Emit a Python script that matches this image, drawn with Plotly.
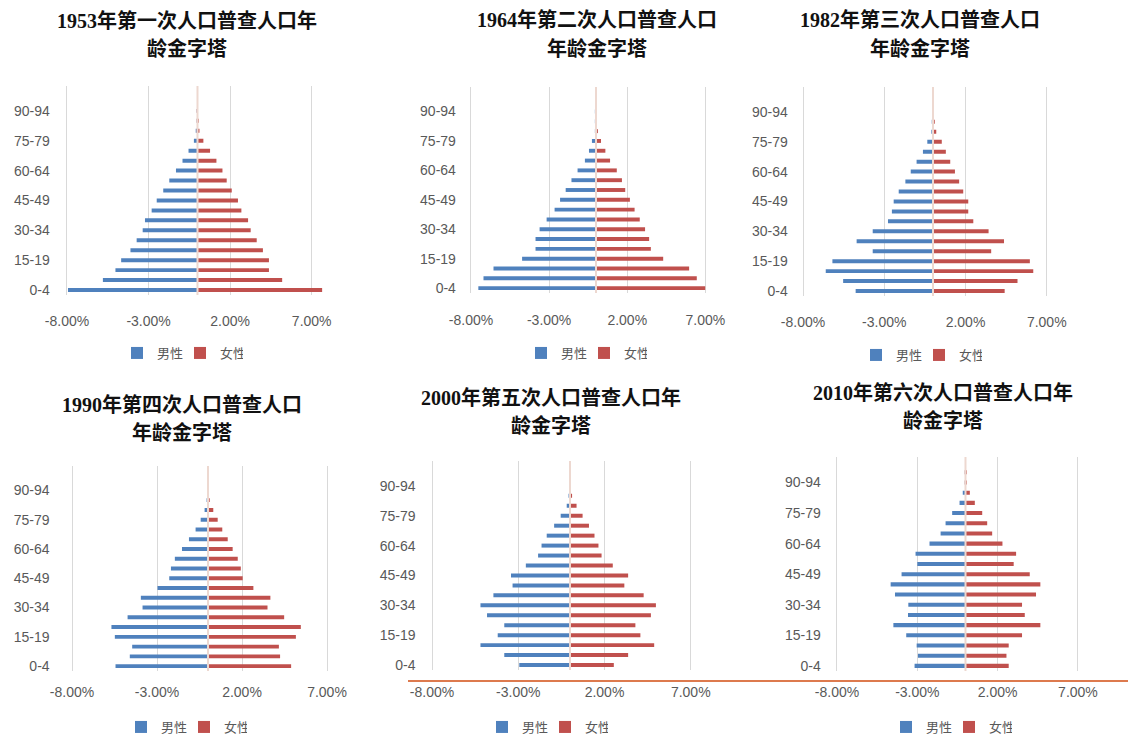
import plotly.graph_objects as go

W, H = 1128, 738

# Five-year age bands used by every census panel
age_groups = ["0-4", "5-9", "10-14", "15-19", "20-24", "25-29", "30-34",
              "35-39", "40-44", "45-49", "50-54", "55-59", "60-64", "65-69",
              "70-74", "75-79", "80-84", "85-89", "90-94", "95-99", "100+"]
age_ticks = ["0-4", "15-19", "30-34", "45-49", "60-64", "75-79", "90-94"]

pct_ticks = [-8, -3, 2, 7]
pct_tick_text = ["-8.00%", "-3.00%", "2.00%", "7.00%"]

series_names = ["男性", "女性"]

# Share of total population (%) per age band
male_1953 = [7.94, 5.80, 5.03, 4.68, 4.11, 3.73, 3.36, 3.22, 2.81, 2.50, 2.10,
             1.73, 1.32, 0.92, 0.55, 0.22, 0.08, 0.03, 0.01, 0.0, 0.0]
female_1953 = [7.64, 5.19, 4.38, 4.38, 4.01, 3.63, 3.26, 3.10, 2.69, 2.48, 2.10,
               1.79, 1.53, 1.16, 0.77, 0.36, 0.12, 0.04, 0.01, 0.0, 0.0]

male_1964 = [7.53, 7.20, 6.56, 4.73, 3.87, 3.87, 3.61, 3.16, 2.65, 2.30, 1.94,
             1.57, 1.18, 0.71, 0.45, 0.26, 0.06, 0.02, 0.01, 0.0, 0.0]
female_1964 = [6.99, 6.45, 5.96, 4.30, 3.51, 3.40, 3.14, 2.80, 2.47, 2.17, 1.87,
               1.66, 1.33, 0.90, 0.60, 0.32, 0.10, 0.04, 0.01, 0.0, 0.0]

male_1982 = [4.76, 5.53, 6.60, 6.19, 3.71, 4.70, 3.71, 2.77, 2.53, 2.42, 2.11,
             1.70, 1.37, 1.01, 0.62, 0.35, 0.10, 0.03, 0.01, 0.0, 0.0]
female_1982 = [4.41, 5.20, 6.17, 5.96, 3.58, 4.37, 3.42, 2.48, 2.17, 2.17, 1.86,
               1.61, 1.35, 1.06, 0.79, 0.54, 0.20, 0.06, 0.02, 0.0, 0.0]

male_1990 = [5.44, 4.60, 4.46, 5.48, 5.68, 4.73, 3.85, 3.95, 2.97, 2.28, 2.18,
             1.95, 1.53, 1.12, 0.73, 0.43, 0.20, 0.05, 0.01, 0.0, 0.0]
female_1990 = [4.89, 4.24, 4.17, 5.17, 5.46, 4.48, 3.50, 3.67, 2.67, 2.04, 1.93,
               1.75, 1.45, 1.16, 0.84, 0.57, 0.31, 0.10, 0.02, 0.0, 0.0]

male_2000 = [2.94, 3.81, 5.19, 4.19, 3.81, 4.81, 5.19, 4.44, 3.33, 3.42, 2.56,
             1.85, 1.65, 1.35, 0.92, 0.54, 0.19, 0.06, 0.01, 0.0, 0.0]
female_2000 = [2.54, 3.37, 4.88, 4.08, 3.79, 4.69, 4.98, 4.27, 3.15, 3.37, 2.48,
               1.83, 1.65, 1.42, 1.10, 0.73, 0.38, 0.12, 0.03, 0.0, 0.0]

male_2010 = [3.17, 2.96, 3.04, 3.69, 4.49, 3.58, 3.56, 4.39, 4.66, 3.98, 3.00,
             3.11, 2.24, 1.55, 1.24, 0.83, 0.37, 0.17, 0.04, 0.01, 0.0]
female_2010 = [2.69, 2.55, 2.69, 3.52, 4.66, 3.69, 3.52, 4.39, 4.66, 4.00, 3.00,
               3.15, 2.30, 1.66, 1.35, 1.04, 0.58, 0.27, 0.08, 0.02, 0.0]

titles = [
    ("1953年第一次人口普查人口年", "龄金字塔"),
    ("1964年第二次人口普查人口", "年龄金字塔"),
    ("1982年第三次人口普查人口", "年龄金字塔"),
    ("1990年第四次人口普查人口", "年龄金字塔"),
    ("2000年第五次人口普查人口年", "龄金字塔"),
    ("2010年第六次人口普查人口年", "龄金字塔"),
]
males = [male_1953, male_1964, male_1982, male_1990, male_2000, male_2010]
females = [female_1953, female_1964, female_1982, female_1990, female_2000, female_2010]

# Panel geometry in pixels: x of the -8% and +8% positions, plot top/bottom,
# title line centres, legend centre, label standoffs
panels = [
    dict(box=(67, 328, 86, 295), title_x=187, title_y=(21, 49), legend=(180, 353), ystand=10, xstand=16),
    dict(box=(471, 721, 87, 293), title_x=597, title_y=(20, 48), legend=(584, 353), ystand=8, xstand=17),
    dict(box=(803, 1063, 87, 296), title_x=920, title_y=(20, 48), legend=(919, 355), ystand=8, xstand=16),
    dict(box=(72, 344, 466, 671), title_x=182, title_y=(405, 432), legend=(184, 727), ystand=15, xstand=11),
    dict(box=(432, 708, 461, 670), title_x=551, title_y=(398, 425), legend=(545, 727), ystand=9, xstand=12),
    dict(box=(837, 1094, 457, 671), title_x=943, title_y=(393, 420), legend=(949, 727), ystand=9, xstand=11),
]

X_MIN, X_MAX, X_PAD = -8.0, 8.0, 0.2

MALE_COLOR = "#4F81BD"
FEMALE_COLOR = "#C0504D"
GRID_COLOR = "#D9D9D9"
TEXT_GREY = "#595959"
TICK_FONT = dict(family="Liberation Sans, Arial, sans-serif", size=14, color=TEXT_GREY)
TITLE_FONT = dict(family="Liberation Serif, Noto Sans CJK SC, serif", size=20, color="#111111")

fig = go.Figure()
layout = dict(
    width=W, height=H,
    margin=dict(l=0, r=0, t=0, b=0, autoexpand=False),
    paper_bgcolor="white", plot_bgcolor="rgba(0,0,0,0)",
    barmode="overlay",
    showlegend=True,
    annotations=[], shapes=[],
)

for i, (p, (t1, t2), male, female) in enumerate(zip(panels, titles, males, females), start=1):
    x0, x1, y0, y1 = p["box"]
    ppu = (x1 - x0) / (X_MAX - X_MIN)
    left_px = x0 - X_PAD * ppu
    sfx = "" if i == 1 else str(i)
    xa, ya = f"x{sfx}", f"y{sfx}"
    leg = f"legend{sfx}"

    fig.add_trace(go.Bar(
        y=age_groups, x=[-v for v in male], orientation="h",
        name=series_names[0], marker=dict(color=MALE_COLOR, line=dict(width=0)),
        width=0.4, xaxis=xa, yaxis=ya, legend=leg,
        customdata=male, hovertemplate="%{y}: %{customdata:.2f}%<extra>男性</extra>",
    ))
    fig.add_trace(go.Bar(
        y=age_groups, x=female, orientation="h",
        name=series_names[1], marker=dict(color=FEMALE_COLOR, line=dict(width=0)),
        width=0.4, xaxis=xa, yaxis=ya, legend=leg,
        hovertemplate="%{y}: %{x:.2f}%<extra>女性</extra>",
    ))

    layout[f"xaxis{sfx}"] = dict(
        domain=[left_px / W, x1 / W], anchor=ya, range=[X_MIN - X_PAD, X_MAX],
        tickmode="array", tickvals=pct_ticks, ticktext=pct_tick_text,
        showgrid=True, gridcolor=GRID_COLOR, gridwidth=1,
        zeroline=False, showline=False, ticks="", automargin=False,
        ticklabelstandoff=p["xstand"], tickfont=TICK_FONT, fixedrange=True,
    )
    layout[f"yaxis{sfx}"] = dict(
        domain=[1 - y1 / H, 1 - y0 / H], anchor=xa, type="category",
        categoryorder="array", categoryarray=age_groups, range=[-0.5, 20.5],
        tickmode="array", tickvals=age_ticks,
        showgrid=False, zeroline=False, showline=False, ticks="", automargin=False,
        ticklabelstandoff=p["ystand"] + int(round(X_PAD * ppu)),
        tickfont=TICK_FONT, fixedrange=True,
    )
    layout[leg] = dict(
        orientation="h", x=p["legend"][0] / W, y=1 - p["legend"][1] / H,
        xanchor="center", yanchor="middle", itemwidth=30,
        entrywidth=18, entrywidthmode="pixels",
        font=dict(family="Noto Sans CJK SC, sans-serif", size=13, color=TEXT_GREY),
        bgcolor="rgba(0,0,0,0)", traceorder="normal",
    )

    # Centre (zero) line between the male and female halves
    layout["shapes"].append(dict(
        type="line", xref=xa, yref=f"{ya} domain", x0=0, x1=0, y0=0, y1=1,
        line=dict(color="#EDD8D0", width=2), layer="above",
    ))

    for text, ty in zip((t1, t2), p["title_y"]):
        layout["annotations"].append(dict(
            text=f"<b>{text}</b>", xref="paper", yref="paper",
            x=p["title_x"] / W, y=1 - ty / H, xanchor="center", yanchor="middle",
            showarrow=False, font=TITLE_FONT,
        ))

# Orange rule running under the lower middle and right panels
layout["shapes"].append(dict(
    type="line", xref="paper", yref="paper",
    x0=408 / W, x1=1.0, y0=1 - 681 / H, y1=1 - 681 / H,
    line=dict(color="#DD7A4E", width=2), layer="above",
))

fig.update_layout(**layout)
fig.write_html("out.html")
